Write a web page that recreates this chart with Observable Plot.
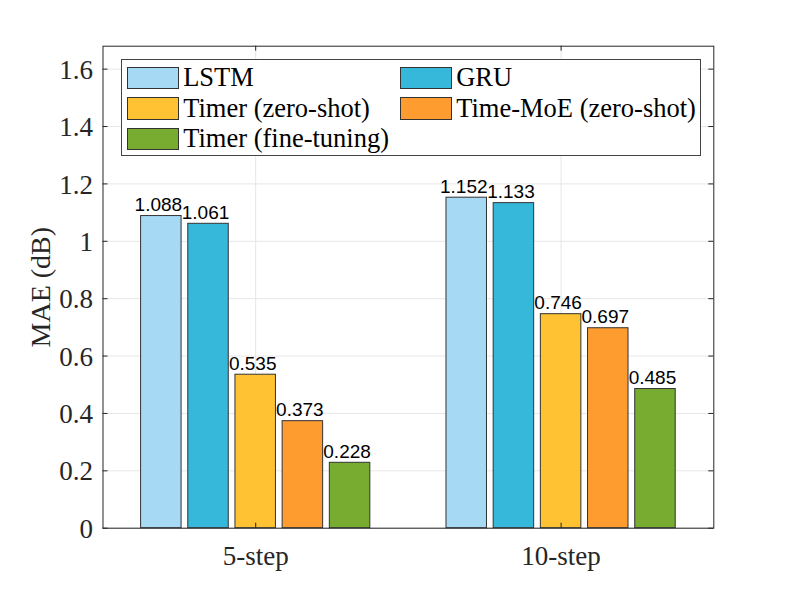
<!DOCTYPE html>
<html>
<head>
<meta charset="utf-8">
<script src="https://cdn.jsdelivr.net/npm/d3@7"></script>
<script src="https://cdn.jsdelivr.net/npm/@observablehq/plot@0.6"></script>
<style>
  html, body { margin: 0; padding: 0; background: white; }
  #wrap { position: relative; width: 789px; height: 593px; }
  #legend { position: absolute; left: 120.7px; top: 59.3px; width: 580px; height: 97px;
    border: 1px solid #444; background: white; box-sizing: border-box;
    font-family: 'Liberation Serif', 'Times New Roman', serif; font-size: 26.5px; color: black; }
  .item { position: absolute; height: 23px; display: flex; align-items: center; white-space: nowrap; }
  .sw { width: 52.5px; height: 22.5px; border: 1px solid #333; box-sizing: border-box; margin-right: 4px; flex: none; }
</style>
</head>
<body>
<div id="wrap"></div>
<script>
const categories = ["5-step", "10-step"];
const series = ["LSTM", "GRU", "Timer (zero-shot)", "Time-MoE (zero-shot)", "Timer (fine-tuning)"];
const lstm = [1.088, 1.152];
const gru = [1.061, 1.133];
const timerZero = [0.535, 0.746];
const timeMoE = [0.373, 0.697];
const timerFine = [0.228, 0.485];
const colors = ["#A6D9F4", "#35B8DA", "#FEC232", "#FE9C30", "#77AC30"];
const yTicks = [0, 0.2, 0.4, 0.6, 0.8, 1, 1.2, 1.4, 1.6];
const yTickLabels = ["0", "0.2", "0.4", "0.6", "0.8", "1", "1.2", "1.4", "1.6"];
const yLabel = "MAE (dB)";

const seriesValues = [lstm, gru, timerZero, timeMoE, timerFine];
const pitch = 0.1545, barW = 0.1326;
const rows = [];
categories.forEach((c, ci) => {
  seriesValues.forEach((vals, si) => {
    const xc = ci + 1 + (si - 2) * pitch;
    rows.push({cat: c, series: series[si], value: vals[ci], xc, x1: xc - barW / 2, x2: xc + barW / 2});
  });
});
const catPos = categories.map((c, i) => ({label: c, x: i + 1}));
const yTickData = yTicks.map((v, i) => ({v, label: yTickLabels[i]}));

const W = 789, H = 593, mL = 102.5, mR = 75.7, mT = 45.7, mB = 65.3;
const pw = W - mL - mR, ph = H - mT - mB;
const serif = "'Liberation Serif', 'Times New Roman', serif";

const chart = Plot.plot({
  width: W, height: H,
  marginLeft: mL, marginRight: mR, marginTop: mT, marginBottom: mB,
  x: {domain: [0.5, 2.5], axis: null},
  y: {domain: [0, 1.68], axis: null},
  color: {domain: series, range: colors},
  style: {fontFamily: serif, background: "white"},
  marks: [
    Plot.ruleY(yTicks, {y: d => d, stroke: "#e6e6e6", strokeWidth: 1}),
    Plot.ruleX(catPos, {x: "x", stroke: "#e6e6e6", strokeWidth: 1}),
    Plot.rectY(rows, {x1: "x1", x2: "x2", y1: 0, y2: "value", fill: "series", stroke: "#333", strokeWidth: 1}),
    Plot.text(rows, {x: "xc", y: "value", text: d => d.value.toFixed(3), lineAnchor: "bottom", dy: -5, dx: -3,
      fontFamily: "'Liberation Sans', Arial, sans-serif", fontSize: 19, fill: "black"}),
    Plot.frame({stroke: "#262626", strokeWidth: 1}),
    Plot.tickY(yTicks, {y: d => d, insetRight: pw - 5, stroke: "#262626"}),
    Plot.tickY(yTicks, {y: d => d, insetLeft: pw - 5, stroke: "#262626"}),
    Plot.tickX(catPos, {x: "x", insetBottom: ph - 5, stroke: "#262626"}),
    Plot.tickX(catPos, {x: "x", insetTop: ph - 5, stroke: "#262626"}),
    Plot.text(yTickData, {y: "v", text: "label", frameAnchor: "left", textAnchor: "end", dx: -10, dy: 1,
      fontFamily: serif, fontSize: 27, fill: "#262626"}),
    Plot.text(catPos, {x: "x", text: "label", frameAnchor: "bottom", lineAnchor: "top", dy: 17.5,
      fontFamily: serif, fontSize: 27, fill: "#262626"}),
    Plot.text([yLabel], {text: d => d, frameAnchor: "left", textAnchor: "middle", rotate: -90, dx: -62,
      fontFamily: serif, fontSize: 28, fill: "#262626"})
  ]
});

const wrap = document.getElementById("wrap");
wrap.appendChild(chart);

const legend = document.createElement("div");
legend.id = "legend";
const pos = [[5, 6], [278, 6], [5, 36.5], [278, 36.5], [5, 67]];
series.forEach((s, i) => {
  const it = document.createElement("div");
  it.className = "item";
  it.style.left = pos[i][0] + "px";
  it.style.top = pos[i][1] + "px";
  const sw = document.createElement("div");
  sw.className = "sw";
  sw.style.background = colors[i];
  const tx = document.createElement("span");
  tx.textContent = s;
  it.appendChild(sw);
  it.appendChild(tx);
  legend.appendChild(it);
});
wrap.appendChild(legend);
</script>
</body>
</html>
